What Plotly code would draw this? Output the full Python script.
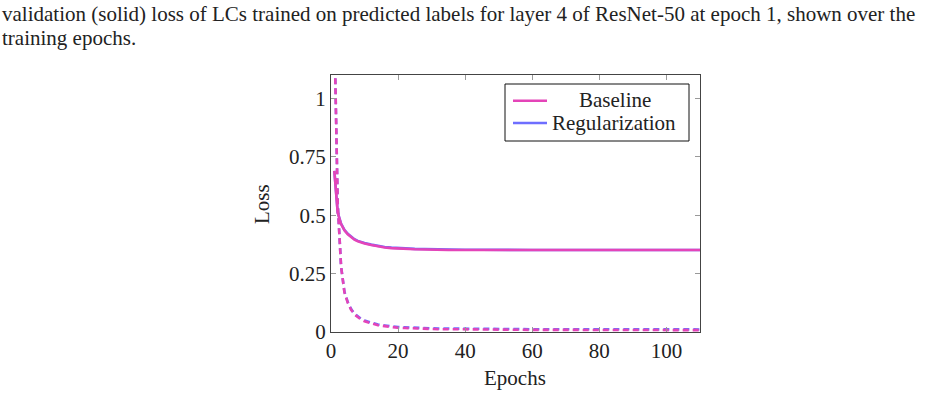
import plotly.graph_objects as go

# ---- data ----
epochs = [1, 2, 3, 4, 5, 6, 7, 8, 9, 10, 12, 14, 16, 18, 20, 22, 25, 28, 30,
          32, 35, 40, 45, 50, 60, 70, 80, 90, 100, 110]

base_val = [0.690, 0.510, 0.462, 0.435, 0.418, 0.405, 0.395, 0.388, 0.383, 0.379,
            0.372, 0.366, 0.362, 0.359, 0.357, 0.355, 0.354, 0.353, 0.352,
            0.352, 0.351, 0.351, 0.351, 0.351, 0.351, 0.351, 0.351, 0.351, 0.351, 0.351]
reg_val = [0.690, 0.512, 0.464, 0.437, 0.420, 0.407, 0.397, 0.390, 0.385, 0.381,
           0.374, 0.368, 0.364, 0.361, 0.359, 0.357, 0.356, 0.355, 0.354,
           0.354, 0.353, 0.352, 0.352, 0.351, 0.351, 0.351, 0.351, 0.351, 0.351, 0.351]

base_train = [1.30, 0.550, 0.280, 0.170, 0.125, 0.095, 0.075, 0.062, 0.053, 0.046,
              0.036, 0.029, 0.025, 0.021, 0.018, 0.017, 0.015, 0.014, 0.013,
              0.012, 0.012, 0.011, 0.010, 0.010, 0.009, 0.009, 0.008, 0.008, 0.008, 0.008]
reg_train = [1.30, 0.552, 0.283, 0.173, 0.128, 0.098, 0.078, 0.065, 0.056, 0.049,
             0.039, 0.032, 0.028, 0.024, 0.021, 0.020, 0.018, 0.017, 0.016,
             0.015, 0.015, 0.014, 0.013, 0.013, 0.012, 0.012, 0.011, 0.011, 0.011, 0.011]

series_names = ["Baseline", "Regularization"]
x_ticks = [0, 20, 40, 60, 80, 100]
y_ticks = [0, 0.25, 0.5, 0.75, 1]
y_tick_labels = ["0", "0.25", "0.5", "0.75", "1"]

caption_line2 = ("validation (solid) loss of LCs trained on predicted labels for layer 4 "
                 "of ResNet-50 at epoch 1, shown over the")
caption_line3 = "training epochs."

PINK = "#E444B8"
BLUE = "#6E6EFF"
FONT = "Liberation Serif"
FS = 21

W, H = 947, 416
L, R, T, B = 331, 247, 75, 84
PW, PH = W - L - R, H - T - B

def px(x):
    return (x - L) / PW

def py(y):
    return (H - B - y) / PH

fig = go.Figure()

# Regularization drawn first (underneath)
fig.add_trace(go.Scatter(x=epochs, y=reg_train, mode="lines", showlegend=False,
                         line=dict(color=BLUE, width=2.6, dash="6px,4px")))
fig.add_trace(go.Scatter(x=epochs, y=reg_val, mode="lines", name=series_names[1],
                         showlegend=False, line=dict(color=BLUE, width=2.6)))
fig.add_trace(go.Scatter(x=epochs, y=base_train, mode="lines", showlegend=False,
                         line=dict(color=PINK, width=2.6, dash="6px,4px")))
fig.add_trace(go.Scatter(x=epochs, y=base_val, mode="lines", name=series_names[0],
                         showlegend=False, line=dict(color=PINK, width=2.6)))

axis_common = dict(showgrid=False, zeroline=False, showline=True, linecolor="#444",
                   linewidth=1.3, mirror="ticks", ticks="inside", ticklen=5,
                   tickwidth=1.3, tickcolor="#999",
                   tickfont=dict(family=FONT, size=FS, color="#222"))

fig.update_xaxes(range=[0, 110], tickvals=x_ticks, ticktext=[str(v) for v in x_ticks],
                 **axis_common)
fig.update_yaxes(range=[0, 1.1], tickvals=y_ticks, ticktext=y_tick_labels,
                 **axis_common)

annotations = [
    dict(text="Epochs", x=px(515), y=py(378), xref="paper", yref="paper",
         xanchor="center", yanchor="middle",
         showarrow=False, font=dict(family=FONT, size=FS, color="#222")),
    dict(text="Loss", x=px(262), y=py(204), xref="paper", yref="paper",
         xanchor="center", yanchor="middle",
         showarrow=False, textangle=-90, font=dict(family=FONT, size=FS, color="#222")),
    dict(text=caption_line2, x=px(0), y=py(14), xref="paper", yref="paper",
         xanchor="left", yanchor="middle", showarrow=False,
         font=dict(family=FONT, size=FS, color="#222")),
    dict(text=caption_line3, x=px(0), y=py(38), xref="paper", yref="paper",
         xanchor="left", yanchor="middle", showarrow=False,
         font=dict(family=FONT, size=FS, color="#222")),
    # legend texts
    dict(text=series_names[0], x=px(615), y=py(100), xref="paper", yref="paper",
         xanchor="center", yanchor="middle", showarrow=False,
         font=dict(family=FONT, size=FS, color="#222")),
    dict(text=series_names[1], x=px(614), y=py(123), xref="paper", yref="paper",
         xanchor="center", yanchor="middle", showarrow=False,
         font=dict(family=FONT, size=FS, color="#222")),
]

shapes = [
    dict(type="rect", xref="paper", yref="paper", x0=px(505), x1=px(689),
         y0=py(141), y1=py(84), line=dict(color="#111", width=1), fillcolor="white",
         layer="above"),
    dict(type="line", xref="paper", yref="paper", x0=px(513), x1=px(547),
         y0=py(100.7), y1=py(100.7), line=dict(color=PINK, width=2.6)),
    dict(type="line", xref="paper", yref="paper", x0=px(513), x1=px(547),
         y0=py(123), y1=py(123), line=dict(color=BLUE, width=2.6)),
]

fig.update_layout(
    width=W, height=H,
    margin=dict(l=L, r=R, t=T, b=B),
    paper_bgcolor="white", plot_bgcolor="white",
    annotations=annotations,
    shapes=shapes,
    showlegend=False,
)

fig.write_html("out.html")
